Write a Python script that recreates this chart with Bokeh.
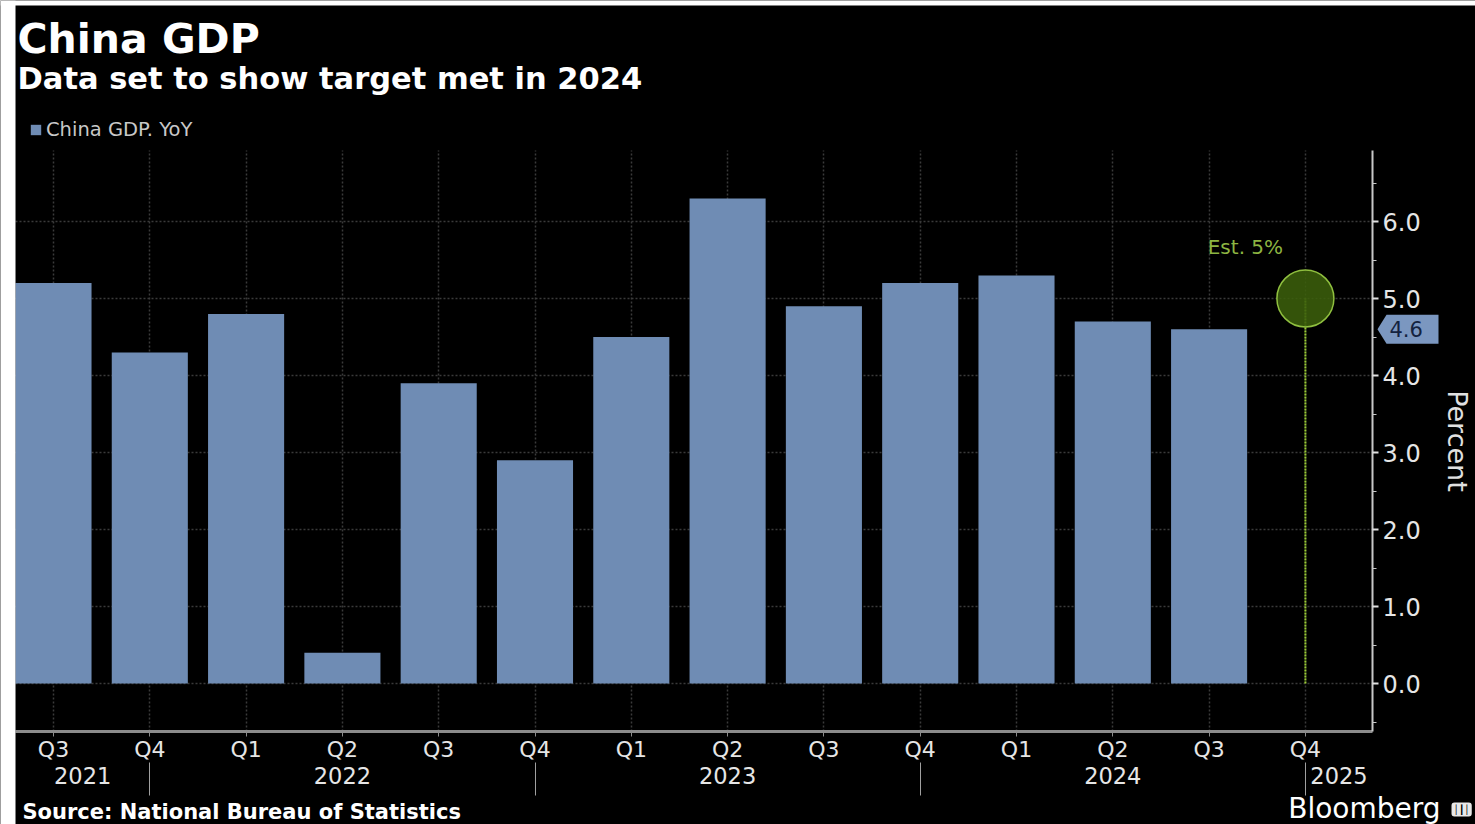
from bokeh.plotting import figure
from bokeh.models import (Range1d, LinearAxis, FixedTicker, CustomJSTickFormatter,
                          NumeralTickFormatter, Grid, Label, Legend, LegendItem,
                          PolyAnnotation, BoxAnnotation)
from bokeh.embed import file_html
from bokeh.resources import INLINE

# ---------------- data ----------------
quarters = ["Q3", "Q4", "Q1", "Q2", "Q3", "Q4", "Q1", "Q2", "Q3", "Q4", "Q1", "Q2", "Q3", "Q4"]
years = ["2021", "2022", "2023", "2024", "2025"]
year_boundaries = [1, 5, 9, 13]          # Q4 positions where a new year segment starts
gdp_yoy = [5.2, 4.3, 4.8, 0.4, 3.9, 2.9, 4.5, 6.3, 4.9, 5.2, 5.3, 4.7, 4.6]
est_index = 13
est_value = 5.0
y_ticks = [0, 1, 2, 3, 4, 5, 6]

xs = list(range(len(gdp_yoy)))
q_pos = list(range(len(quarters)))

# ---------------- layout ----------------
W, H = 1475, 824
X0_PAGE, DX = 53.0, 96.3         # page x of category 0, px per category
Y0_PAGE, DY = 683.0, 77.0        # page y of value 0, px per percent


def dx(X):      # page x -> data x
    return (X - X0_PAGE) / DX


def dy(Y):      # page y -> data y
    return (Y0_PAGE - Y) / DY


XS, XE = dx(0), dx(W)
YS, YE = dy(H), dy(0)
X_LO, X_HI = dx(15), dx(1372)    # plot area
Y_LO, Y_HI = dy(731), dy(150)

FONT = "DejaVu Sans"

p = figure(width=W, height=H, output_backend="svg", toolbar_location=None,
           x_range=Range1d(XS, XE), y_range=Range1d(YS, YE),
           x_axis_location=None, y_axis_location=None,
           background_fill_color="black", border_fill_color="black",
           outline_line_color=None,
           min_border_left=0, min_border_right=0, min_border_top=0,
           min_border_bottom=0)
# drop the default grids, custom ones are added below
p.center = [r for r in p.center if not isinstance(r, Grid)]


def sx(X):      # page x -> frame screen x
    return X


def sy(Y):      # page y -> frame screen y (from bottom)
    return H - Y


# ---------------- grids ----------------
GRID = dict(grid_line_color="#3a3a3a", grid_line_dash="2 2", grid_line_width=1.5)
q_ticker = FixedTicker(ticks=q_pos, minor_ticks=[])
y_ticker = FixedTicker(ticks=y_ticks, minor_ticks=[t + 0.5 for t in [-1] + y_ticks])
p.add_layout(Grid(dimension=0, ticker=q_ticker, bounds=(X_LO, X_HI),
                  cross_bounds=(Y_LO, Y_HI), **GRID))
p.add_layout(Grid(dimension=1, ticker=FixedTicker(ticks=y_ticks), bounds=(Y_LO, Y_HI),
                  cross_bounds=(X_LO, X_HI), **GRID))

# ---------------- axes ----------------
q_axis = LinearAxis(ticker=q_ticker, fixed_location=Y_LO, bounds=(X_LO, X_HI),
                    formatter=CustomJSTickFormatter(args=dict(labels=quarters),
                                                    code="return labels[index]"),
                    axis_line_color="#8c8c8c", axis_line_width=3,
                    major_tick_out=5, major_tick_in=0, major_tick_line_color="#8c8c8c",
                    minor_tick_out=0, minor_tick_in=0,
                    major_label_standoff=0, major_label_text_color="#e6e6e6",
                    major_label_text_font=FONT, major_label_text_font_size="22px")
p.add_layout(q_axis, "below")

sep_axis = LinearAxis(ticker=FixedTicker(ticks=year_boundaries, minor_ticks=[]),
                      fixed_location=dy(762),
                      formatter=CustomJSTickFormatter(code="return ''"),
                      axis_line_color=None,
                      major_tick_in=0, major_tick_out=33, major_tick_line_color="#a0a0a0",
                      major_tick_line_width=1, minor_tick_out=0, minor_tick_in=0)
p.add_layout(sep_axis, "below")

bounds = [X_LO] + year_boundaries + [X_HI]
year_pos = [(a + b) / 2 for a, b in zip(bounds[:-1], bounds[1:])]
yr_axis = LinearAxis(ticker=FixedTicker(ticks=year_pos, minor_ticks=[]),
                     fixed_location=dy(766),
                     formatter=CustomJSTickFormatter(args=dict(labels=years),
                                                     code="return labels[index]"),
                     axis_line_color=None, major_tick_line_color=None,
                     major_tick_out=0, major_tick_in=0, minor_tick_out=0, minor_tick_in=0,
                     major_label_standoff=0, major_label_text_color="#e6e6e6",
                     major_label_text_font=FONT, major_label_text_font_size="22.5px")
p.add_layout(yr_axis, "below")

y_axis = LinearAxis(ticker=y_ticker, fixed_location=X_HI, bounds=(Y_LO, Y_HI),
                    formatter=NumeralTickFormatter(format="0.0"),
                    axis_label="Percent", axis_label_standoff=18,
                    axis_label_text_color="#e0e0e0", axis_label_text_font=FONT,
                    axis_label_text_font_size="27px", axis_label_text_font_style="normal",
                    axis_line_color="#c8c8c8", axis_line_width=2,
                    major_tick_out=6, major_tick_in=0, major_tick_line_color="#e0e0e0",
                    major_tick_line_width=2,
                    minor_tick_out=4, minor_tick_in=0, minor_tick_line_color="#c8c8c8",
                    major_label_standoff=4, major_label_text_color="#e6e6e6",
                    major_label_text_font=FONT, major_label_text_font_size="24px")
p.add_layout(y_axis, "right")

# ---------------- bars ----------------
bars = p.vbar(x=xs, top=gdp_yoy, bottom=0, width=0.79,
              fill_color="#6f8cb4", line_color=None)

# ---------------- estimate ----------------
p.segment(x0=[est_index], y0=[0], x1=[est_index], y1=[est_value],
          line_color="#9acd32", line_width=2, line_dash="2 1")
p.scatter(x=[est_index], y=[est_value], size=57, fill_color="#3b5f0b", fill_alpha=0.88,
          line_color="#8fbf3f", line_width=1.5)
p.add_layout(Label(x=est_index, y=est_value, x_offset=-60, y_offset=52,
                   text=f"Est. {est_value:g}%", text_align="center", text_baseline="middle",
                   text_color="#8db542", text_font=FONT, text_font_size="20px"))

# ---------------- last value tag ----------------
last = gdp_yoy[-1]
half = 14.5 / DY
p.add_layout(PolyAnnotation(xs=[sx(1377), sx(1386), sx(1438), sx(1438), sx(1386)],
                            ys=[last, last + half, last + half, last - half, last - half],
                            xs_units="screen", ys_units="data",
                            fill_color="#7b97c0", fill_alpha=1, line_color=None))
p.add_layout(Label(x=sx(1389), y=last, x_units="screen", y_units="data",
                   text=f"{last:.1f}", text_align="left", text_baseline="middle",
                   text_color="#14233f", text_font=FONT, text_font_size="21px"))

# ---------------- legend ----------------
legend = Legend(items=[LegendItem(label="China GDP. YoY", renderers=[bars])],
                location=(sx(29), sy(141)), orientation="horizontal", padding=0, margin=0,
                spacing=0, border_line_color=None, background_fill_alpha=0,
                label_text_color="#c8c8c8", label_text_font=FONT,
                label_text_font_size="19.5px", glyph_width=13, glyph_height=13,
                label_standoff=4, label_height=24)
p.add_layout(legend)


# ---------------- texts ----------------
def txt(X, Y, text, size, bold=False, color="white", align="left"):
    p.add_layout(Label(x=sx(X), y=sy(Y), x_units="screen", y_units="screen",
                       text=text, text_align=align, text_baseline="middle",
                       text_color=color, text_font=FONT, text_font_size=size,
                       text_font_style="bold" if bold else "normal"))


txt(17, 38, "China GDP", "41px", bold=True)
txt(17, 78, "Data set to show target met in 2024", "30.5px", bold=True)
txt(22, 811, "Source: National Bureau of Statistics", "21px", bold=True)
txt(1440, 808, "Bloomberg", "28px", align="right")
p.add_layout(Label(x=sx(1451), y=sy(809), x_units="screen", y_units="screen",
                   text="\u2502\u2503\u2502", text_align="left", text_baseline="middle",
                   text_color="black", text_font=FONT, text_font_size="9px",
                   background_fill_color="#e8e8e8", border_radius=3, padding=2))

# white page edge of the original screenshot (left and top)
p.add_layout(BoxAnnotation(left=0, right=15, left_units="screen", right_units="screen",
                           fill_color="white", fill_alpha=1, line_color=None))
p.add_layout(BoxAnnotation(bottom=H - 5, top=H, bottom_units="screen", top_units="screen",
                           fill_color="white", fill_alpha=1, line_color=None))

open("out.html", "w").write(file_html(p, INLINE))
